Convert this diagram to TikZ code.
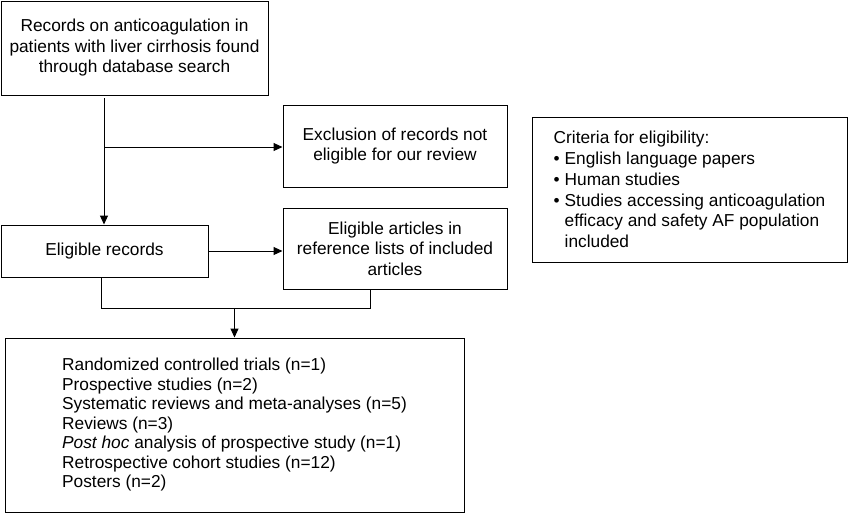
\documentclass[tikz,border=0pt]{standalone}
\usepackage{fontspec}
\setmainfont{Liberation Sans}
\usetikzlibrary{arrows.meta, positioning}
\tikzset{
	box/.style={
		rectangle,
		draw=black, line width=1pt,
		inner sep=0pt,
		align=center,
		font=\fontsize{17.3}{20.5}\selectfont
	},
	arrow/.style={-{Triangle[length=9pt,width=8pt]},line width=1pt},
	link/.style={line width=1pt}
}
\newcommand{\critem}{\makebox[11pt][l]{\textbullet}}
\newcommand{\crindent}{\makebox[11pt]{}}

\begin{document}
\begin{tikzpicture}[x=1pt,y=-1pt]
	\useasboundingbox (0,0) rectangle (848,520);

	\node[box,minimum width=267pt,minimum height=94pt]	(records)	at (134.5,48)	{Records on anticoagulation in\\patients with liver cirrhosis found\\through database search};
	\node[box,minimum width=224pt,minimum height=82pt]	(exclusion)	at (395,146)	{Exclusion of records not\\eligible for our review};
	\node[box,minimum width=207pt,minimum height=52pt]	(eligible)	at (104.5,251)	{Eligible records};
	\node[box,minimum width=224pt,minimum height=81pt]	(refs)	at (395,248.5)	{Eligible articles in\\reference lists of included\\articles};
	\node[box,minimum width=459pt,minimum height=174pt,align=left,font=\fontsize{17.3}{19.5}\selectfont]	(included)	at (234.5,425)	{Randomized controlled trials (n=1)\\Prospective studies (n=2)\\Systematic reviews and meta-analyses (n=5)\\Reviews (n=3)\\\textit{Post hoc} analysis of prospective study (n=1)\\Retrospective cohort studies (n=12)\\Posters (n=2)};
	\node[box,minimum width=315pt,minimum height=145pt,align=left,font=\fontsize{17.3}{20.8}\selectfont]	(criteria)	at (689.5,189.5)	{Criteria for eligibility:\\\critem English language papers\\\critem Human studies\\\critem Studies accessing anticoagulation\\\crindent efficacy and safety AF population\\\crindent included};

	\coordinate	(trunk)	at (104,98);
	\coordinate	(split)	at (104,147);
	\coordinate	(refsjoin)	at (370,308);
	\coordinate	(merge)	at (included.north |- refsjoin);

	\draw[arrow]	(trunk) -- (eligible.north -| trunk);
	\draw[arrow]	(split) -- (exclusion.west |- split);
	\draw[arrow]	(eligible.east) -- (refs.west |- eligible.east);
	\draw[link]	([xshift=-3pt]eligible.south) |- (refsjoin) -- (refsjoin |- refs.south);
	\draw[arrow]	(merge) -- (included.north);
\end{tikzpicture}
\end{document}
